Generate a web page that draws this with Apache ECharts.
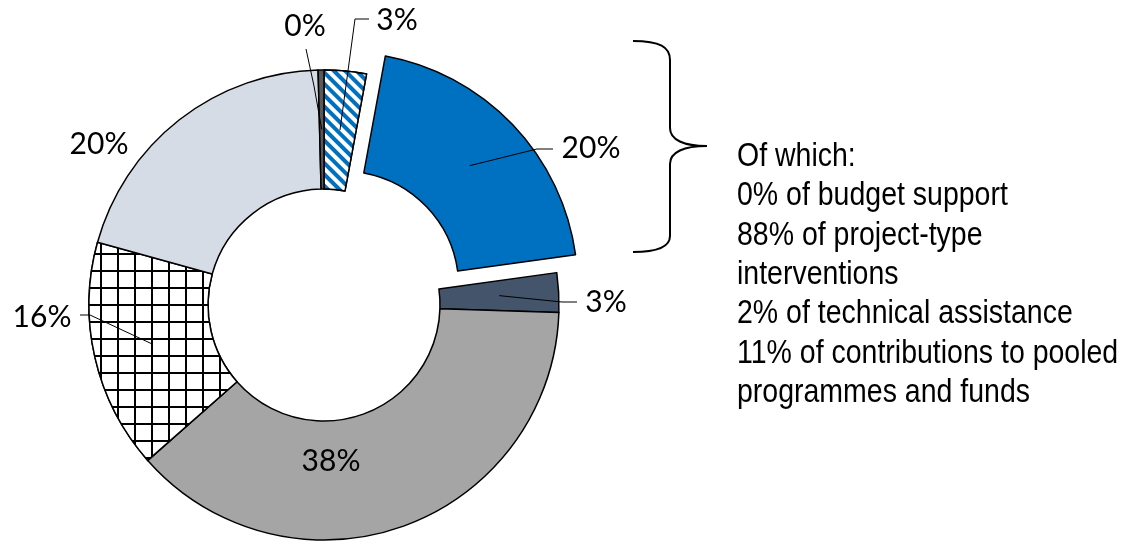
<!DOCTYPE html>
<html>
<head>
<meta charset="utf-8">
<script src="https://cdn.jsdelivr.net/npm/echarts@6/dist/echarts.min.js"></script>
<style>
  html, body { margin: 0; padding: 0; background: #fff; }
  #chart { width: 1124px; height: 545px; }
</style>
</head>
<body>
<div id="chart"></div>
<script>
// ---- data ----
const sliceNames = ['Share A (hatched)', 'Share B', 'Share C', 'Share D', 'Share E (grid)', 'Share F', 'Share G'];
const sliceValues = [2.9, 19.9, 2.7, 38.0, 15.8, 20.3, 0.4];
const explodedSlices = [false, true, false, false, false, false, false];
const breakdownLines = [
  'Of which:',
  '0% of budget support',
  '88% of project-type',
  'interventions',
  '2% of technical assistance',
  '11% of contributions to pooled',
  'programmes and funds'
];

// ---- layout / style ----
const CX = 324, CY = 305, R0 = 116, R1 = 235, EXPLODE = 26;
const sliceColors = ['#0070C0', '#0070C0', '#44546A', '#A5A5A5', '#000000', '#D6DCE5', '#595959'];
const sliceDecals = [
  { symbol: 'rect', symbolSize: 1, color: '#ffffff', dashArrayX: [1, 0], dashArrayY: [3.5, 3.5], rotation: Math.PI / 4 },
  null, null, null,
  { symbol: 'rect', symbolSize: 1, color: '#ffffff', dashArrayX: [15, 2], dashArrayY: [15, 2], rotation: 0 },
  null, null
];
// label centre and leader-line bend points (layout styling)
const labelSpots = [
  { x: 397, y: 20, bend: [[355, 19], [369, 19]] },
  { x: 591, y: 148, bend: [[537, 149], [553, 149]] },
  { x: 606, y: 302, bend: [[562, 302], [577, 302]] },
  { x: 331, y: 461, bend: null },
  { x: 42, y: 317, bend: [[90, 315], [80, 315]] },
  { x: 99, y: 144, bend: null },
  { x: 305, y: 26, bend: [[314, 86], [306, 49]] }
];

const total = sliceValues.reduce((a, b) => a + b, 0);
const midAngles = [];
let acc = 0;
sliceValues.forEach(v => { midAngles.push((acc + v / 2) / total * 2 * Math.PI); acc += v; });

function leaderStart(i) {
  const a = midAngles[i];
  const r = (R0 + R1) / 2 + (explodedSlices[i] ? EXPLODE : 0);
  return [CX + r * Math.sin(a), CY - r * Math.cos(a)];
}

const chart = echarts.init(document.getElementById('chart'), null, { renderer: 'canvas' });

const clear = 'rgba(0,0,0,0)';

// mode: 'base' (non-exploded rings), 'exploded' (exploded slices), 'labels' (transparent, labels on top)
function buildData(mode) {
  return sliceValues.map((v, i) => {
    const item = { name: sliceNames[i], value: v };
    const visible = mode !== 'labels' && (explodedSlices[i] === (mode === 'exploded'));
    if (visible) {
      item.itemStyle = { color: sliceColors[i], borderColor: '#000', borderWidth: 1.5 };
      if (sliceDecals[i]) item.itemStyle.decal = sliceDecals[i];
    } else {
      item.itemStyle = { color: clear, borderWidth: 0 };
    }
    if (mode === 'labels') {
      if (!labelSpots[i].bend) item.labelLine = { show: false };
    } else {
      item.label = { show: false };
      item.labelLine = { show: false };
    }
    return item;
  });
}

function labelLayout(params) {
  const s = labelSpots[params.dataIndex];
  const out = { x: s.x, y: s.y, align: 'center', verticalAlign: 'middle' };
  if (s.bend) out.labelLinePoints = [leaderStart(params.dataIndex)].concat(s.bend);
  return out;
}

// centre of the exploded ring, shifted along the exploded slice's mid-angle
const exIdx = explodedSlices.indexOf(true);
const exCenter = [CX + EXPLODE * Math.sin(midAngles[exIdx]), CY - EXPLODE * Math.cos(midAngles[exIdx])];

function pieSeries(center, mode, z) {
  return {
    type: 'pie',
    z: z,
    center: center,
    radius: [R0, R1],
    startAngle: 90,
    clockwise: true,
    avoidLabelOverlap: false,
    silent: true,
    emphasis: { disabled: true },
    label: {
      show: mode === 'labels',
      position: 'outside',
      formatter: p => Math.round(p.value) + '%',
      fontFamily: 'Lato, "Open Sans", sans-serif',
      fontSize: 30,
      color: '#000'
    },
    labelLine: { show: mode === 'labels', lineStyle: { color: '#000', width: 1 } },
    labelLayout: mode === 'labels' ? labelLayout : null,
    data: buildData(mode)
  };
}

const braceStyle = { fill: 'none', stroke: '#000', lineWidth: 2 };
const braceCurves = [
  [633, 41, 660, 41, 670, 47, 670, 60],
  [670, 128, 670, 140, 684, 146, 707, 146],
  [707, 146, 684, 146, 670, 152, 670, 164],
  [670, 236, 670, 246, 660, 252, 633, 252]
];
const braceLines = [[670, 60, 670, 128], [670, 164, 670, 236]];
const graphics = [];
braceCurves.forEach(c => graphics.push({
  type: 'bezierCurve',
  shape: { x1: c[0], y1: c[1], cpx1: c[2], cpy1: c[3], cpx2: c[4], cpy2: c[5], x2: c[6], y2: c[7] },
  style: braceStyle
}));
braceLines.forEach(l => graphics.push({
  type: 'line',
  shape: { x1: l[0], y1: l[1], x2: l[2], y2: l[3] },
  style: braceStyle
}));
graphics.push({
  type: 'text',
  x: 737,
  y: 137,
  scaleX: 0.838,
  style: {
    text: breakdownLines.join('\n'),
    font: '34px "Liberation Sans", Arial, sans-serif',
    lineHeight: 39.3,
    fill: '#000'
  }
});

chart.setOption({
  animation: false,
  backgroundColor: '#ffffff',
  series: [
    pieSeries([CX, CY], 'base', 2),
    pieSeries(exCenter, 'exploded', 2),
    pieSeries([CX, CY], 'labels', 5)
  ],
  graphic: graphics
});
</script>
</body>
</html>
